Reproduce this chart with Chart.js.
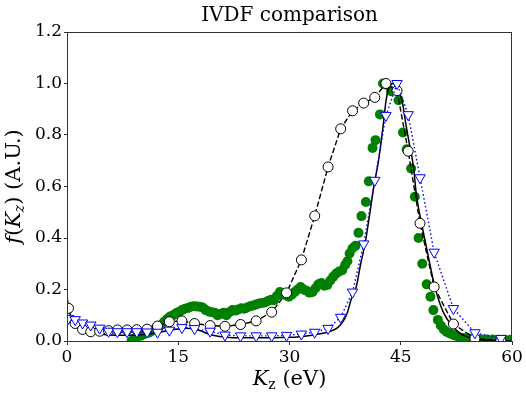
<!DOCTYPE html>
<html>
<head>
<meta charset="utf-8">
<script src="https://cdn.jsdelivr.net/npm/chart.js@4.4.1/dist/chart.umd.min.js"></script>
<style>
  html, body { margin: 0; padding: 0; background: #fff; }
  #ivdf { display: block; }
</style>
</head>
<body>
<canvas id="ivdf" width="526" height="394"></canvas>
<script>
// axis ticks
const xTicks = [0, 15, 30, 45, 60];
const yTicks = [0.0, 0.2, 0.4, 0.6, 0.8, 1.0, 1.2];

// marker positions shared by the open circles and the triangles (eV)
const markKz = [0.2, 1.1, 2.1, 3.2, 4.4, 5.6, 6.8, 8.1, 9.4, 10.8, 12.2, 13.8, 15.5, 17.2, 19.3, 21.3, 23.4, 25.5, 27.6,
  29.6, 31.6, 33.4, 35.2, 36.9, 38.5, 40.0, 41.5, 43.0, 44.5, 46.0, 47.6, 49.5, 52.1, 55.0, 58.5];

// open circles, dashed black
const circF = [0.127, 0.068, 0.045, 0.036, 0.038, 0.040, 0.043, 0.043, 0.044, 0.046, 0.058, 0.075, 0.078, 0.068, 0.060,
  0.057, 0.064, 0.078, 0.112, 0.187, 0.315, 0.486, 0.676, 0.824, 0.894, 0.924, 0.946, 1.0, 0.972, 0.737, 0.457, 0.210,
  0.066, 0.010, 0.002];

// open down triangles, dotted blue
const triF = [0.088, 0.083, 0.070, 0.062, 0.050, 0.038, 0.036, 0.036, 0.036, 0.035, 0.034, 0.042, 0.052, 0.048, 0.038,
  0.023, 0.020, 0.020, 0.020, 0.022, 0.027, 0.034, 0.049, 0.092, 0.190, 0.377, 0.624, 0.876, 1.0, 0.879, 0.634, 0.345,
  0.126, 0.032, 0.010];

// filled green dots
const greenKz = [8.7, 9.1, 9.5, 9.9, 10.3, 10.7, 11.1, 11.5, 11.9, 12.3, 12.7, 13.1, 13.5, 13.9, 14.3, 14.7, 15.1, 15.5,
  15.9, 16.3, 16.7, 17.1, 17.5, 17.9, 18.3, 18.7, 19.1, 19.5, 19.9, 20.3, 20.7, 21.1, 21.5, 21.9, 22.3, 22.7, 23.1, 23.5,
  23.9, 24.3, 24.7, 25.1, 25.5, 25.9, 26.3, 26.7, 27.1, 27.5, 27.9, 28.3, 28.7, 29.1, 29.5, 29.9, 30.3, 30.7, 31.1, 31.5,
  31.9, 32.3, 32.7, 33.1, 33.5, 33.9, 34.3, 34.7, 35.1, 35.5, 35.9, 36.3, 36.7, 37.1, 37.5, 37.8, 38.1, 38.5, 38.9, 39.3,
  39.7, 40.3, 40.7, 41.2, 41.6, 42.2, 42.6, 43.1, 43.7, 44.7, 45.3, 45.8, 46.4, 46.9, 47.4, 47.9, 48.5, 49.0, 49.4, 50.0,
  50.4, 50.8, 51.2, 51.7, 52.2, 52.8, 53.5, 54.2, 55.0, 55.8, 56.6, 57.4, 58.2, 59.0, 59.8];
const greenF = [0.0, 0.010, 0.018, 0.020, 0.025, 0.030, 0.033, 0.040, 0.048, 0.055, 0.062, 0.075, 0.085, 0.095, 0.100,
  0.108, 0.113, 0.120, 0.125, 0.128, 0.133, 0.135, 0.134, 0.133, 0.130, 0.120, 0.115, 0.112, 0.110, 0.100, 0.105, 0.110,
  0.100, 0.112, 0.120, 0.118, 0.122, 0.127, 0.125, 0.130, 0.135, 0.138, 0.142, 0.146, 0.148, 0.150, 0.155, 0.160, 0.158,
  0.175, 0.190, 0.185, 0.178, 0.172, 0.180, 0.190, 0.200, 0.210, 0.200, 0.195, 0.188, 0.190, 0.205, 0.220, 0.225, 0.215,
  0.218, 0.235, 0.250, 0.262, 0.270, 0.275, 0.295, 0.310, 0.340, 0.360, 0.370, 0.420, 0.485, 0.540, 0.620, 0.750, 0.780,
  0.880, 1.0, 0.995, 0.970, 0.935, 0.810, 0.745, 0.670, 0.560, 0.400, 0.300, 0.220, 0.172, 0.120, 0.082, 0.060, 0.045,
  0.035, 0.028, 0.022, 0.016, 0.012, 0.010, 0.008, 0.007, 0.006, 0.006, 0.005, 0.005, 0.005];

// solid black curve
const lineKz = [0, 0.3, 0.7, 1.3, 2.0, 3.0, 3.8, 5.0, 6.5, 8.3, 10, 11, 12, 13, 14, 15, 16, 17, 18, 19, 20, 21.5, 23, 25,
  27, 29, 31, 33, 34.5, 35.5, 36.5, 37.2, 37.8, 38.3, 39.0, 39.6, 40.2, 40.8, 41.3, 42.0, 42.6, 43.0, 43.4, 44.0, 44.6,
  45.2, 45.7, 46.2, 46.7, 47.1, 47.5, 47.8, 48.7, 49.6, 50.7, 52.0, 53.0, 53.9, 55, 56, 58, 60];
const lineF = [0.17, 0.12, 0.08, 0.062, 0.05, 0.037, 0.03, 0.025, 0.022, 0.022, 0.024, 0.027, 0.032, 0.037, 0.043, 0.047,
  0.05, 0.048, 0.04, 0.028, 0.02, 0.015, 0.013, 0.013, 0.013, 0.014, 0.016, 0.022, 0.03, 0.038, 0.052, 0.075, 0.11, 0.16,
  0.21, 0.3, 0.38, 0.49, 0.587, 0.7, 0.83, 0.93, 0.985, 1.0, 0.98, 0.93, 0.84, 0.76, 0.68, 0.57, 0.5, 0.457, 0.33, 0.21,
  0.114, 0.056, 0.03, 0.017, 0.008, 0.004, 0.002, 0.001];

const SERIF = "'DejaVu Serif', serif";

function toPoints(xs, ys) {
  return xs.map((x, i) => ({ x: x, y: ys[i] }));
}

// draws a row of text pieces (font/offset per piece), returns total width
function drawRuns(ctx, runs, x, y, measureOnly) {
  let cx = x;
  runs.forEach(r => {
    ctx.font = r.font;
    if (!measureOnly) ctx.fillText(r.text, cx, y + (r.dy || 0));
    cx += ctx.measureText(r.text).width;
  });
  return cx - x;
}

const framePlugin = {
  id: 'frameAndTitles',
  afterDraw(chart) {
    const ctx = chart.ctx;
    const a = chart.chartArea;
    ctx.save();
    ctx.strokeStyle = '#333';
    ctx.lineWidth = 1;
    ctx.strokeRect(a.left + 0.5, a.top + 0.5, a.right - a.left - 1, a.bottom - a.top);

    ctx.fillStyle = '#000';
    ctx.textBaseline = 'alphabetic';
    ctx.textAlign = 'left';

    // title
    ctx.font = '20px ' + SERIF;
    const tw = ctx.measureText('IVDF comparison').width;
    ctx.fillText('IVDF comparison', (a.left + a.right) / 2 - tw / 2, 21);

    // x label
    const xRuns = [
      { text: 'K', font: 'italic 21px ' + SERIF },
      { text: 'z', font: '14px ' + SERIF, dy: 4 },
      { text: ' (eV)', font: '21px ' + SERIF }
    ];
    const xw = drawRuns(ctx, xRuns, 0, 0, true);
    drawRuns(ctx, xRuns, (a.left + a.right) / 2 - xw / 2, 385);

    // y label (rotated)
    const yRuns = [
      { text: 'f', font: 'italic 21px ' + SERIF },
      { text: '(', font: '21px ' + SERIF },
      { text: 'K', font: 'italic 21px ' + SERIF },
      { text: 'z', font: 'italic 14px ' + SERIF, dy: 4 },
      { text: ') (A.U.)', font: '21px ' + SERIF }
    ];
    const yw = drawRuns(ctx, yRuns, 0, 0, true);
    ctx.translate(20, (a.top + a.bottom) / 2 + yw / 2);
    ctx.rotate(-Math.PI / 2);
    drawRuns(ctx, yRuns, 0, 0);
    ctx.restore();
  }
};

document.addEventListener('DOMContentLoaded', () => {
  const ctx = document.getElementById('ivdf').getContext('2d');
  new Chart(ctx, {
    type: 'line',
    data: {
      datasets: [
        {
          label: 'triangles',
          data: toPoints(markKz, triF),
          borderColor: 'blue',
          borderWidth: 1.4,
          borderDash: [1.5, 2.5],
          pointStyle: 'triangle',
          rotation: 180,
          pointRadius: 6,
          pointBackgroundColor: '#fff',
          pointBorderColor: 'blue',
          pointBorderWidth: 1,
          order: 1
        },
        {
          label: 'circles',
          data: toPoints(markKz, circF),
          borderColor: '#000',
          borderWidth: 1.4,
          borderDash: [5.5, 2.5],
          pointStyle: 'circle',
          pointRadius: 5,
          pointBackgroundColor: '#fff',
          pointBorderColor: '#000',
          pointBorderWidth: 1,
          order: 2
        },
        {
          label: 'solid',
          data: toPoints(lineKz, lineF),
          borderColor: '#000',
          borderWidth: 1.5,
          pointRadius: 0,
          cubicInterpolationMode: 'monotone',
          order: 3
        },
        {
          label: 'green',
          data: toPoints(greenKz, greenF),
          showLine: false,
          pointStyle: 'circle',
          pointRadius: 5,
          pointBackgroundColor: 'green',
          pointBorderColor: 'green',
          pointBorderWidth: 0,
          order: 4
        }
      ]
    },
    options: {
      responsive: false,
      devicePixelRatio: 1,
      animation: false,
      events: [],
      layout: { padding: { left: 0, right: 14, top: 32, bottom: 0 } },
      scales: {
        x: {
          type: 'linear',
          min: 0,
          max: 60,
          afterFit: s => { s.height = 53; },
          afterBuildTicks: s => { s.ticks = xTicks.map(v => ({ value: v })); },
          ticks: { color: '#000', font: { family: SERIF, size: 17 }, padding: 2, maxRotation: 0 },
          grid: { drawOnChartArea: false, tickLength: 4, color: '#333' },
          border: { display: true, color: '#333' }
        },
        y: {
          min: 0,
          max: 1.2,
          afterFit: s => { s.width = 67; },
          afterBuildTicks: s => { s.ticks = yTicks.map(v => ({ value: v })); },
          ticks: {
            color: '#000',
            font: { family: SERIF, size: 17 },
            padding: 2,
            callback: v => Number(v).toFixed(1)
          },
          grid: { drawOnChartArea: false, tickLength: 3, color: '#333' },
          border: { display: true, color: '#333' }
        }
      },
      plugins: {
        legend: { display: false },
        tooltip: { enabled: false },
        title: { display: false }
      }
    },
    plugins: [framePlugin]
  });
});
</script>
</body>
</html>
